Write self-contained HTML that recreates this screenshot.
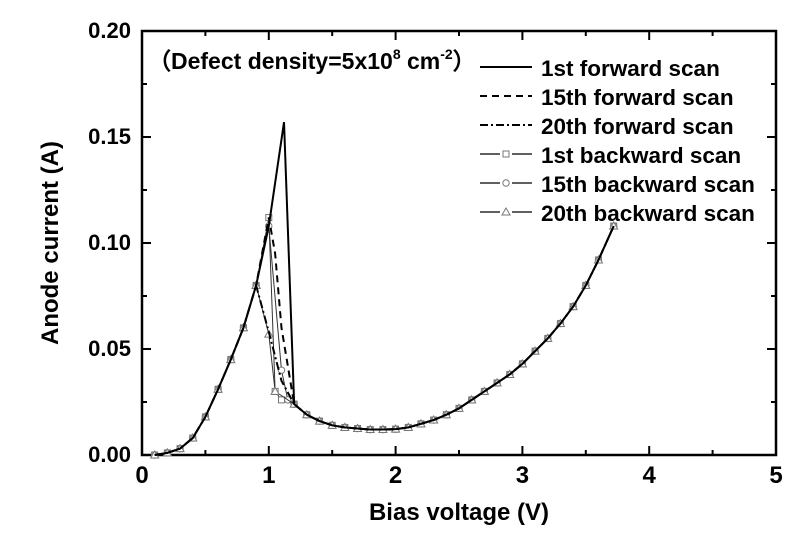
<!DOCTYPE html>
<html><head><meta charset="utf-8"><style>
body{margin:0;background:#fff;}
svg{display:block;font-family:"Liberation Sans",Arial,sans-serif;font-weight:bold;}
</style></head><body>
<svg id="chart" width="808" height="542" viewBox="0 0 808 542" xmlns="http://www.w3.org/2000/svg">
<g id="plot"></g>
</svg>
<script>
const xTicks=[0,1,2,3,4,5];
const yTicks=[0,0.05,0.10,0.15,0.20];
const yTickLabels=["0.00","0.05","0.10","0.15","0.20"];
const rampX=[0.1,0.2,0.3,0.4,0.5,0.6,0.7,0.8,0.9];
const rampY=[0.0,0.001,0.003,0.008,0.018,0.031,0.045,0.060,0.080];
const valleyX=[1.2,1.3,1.4,1.5,1.6,1.7,1.8,1.9,2.0,2.1,2.2,2.3,2.4,2.5,2.6,2.7,2.8,2.9,3.0,3.1,3.2,3.3,3.4,3.5,3.6,3.72];
const valleyY=[0.024,0.019,0.016,0.014,0.013,0.0125,0.012,0.012,0.0122,0.013,0.0147,0.0165,0.019,0.022,0.026,0.030,0.034,0.038,0.043,0.049,0.055,0.062,0.070,0.080,0.092,0.108];
const fwd1X=[1.0,1.12,1.2];const fwd1Y=[0.108,0.157,0.024];
const fwd15X=[1.0,1.05,1.1,1.2];const fwd15Y=[0.112,0.095,0.06,0.024];
const fwd20X=[0.9,1.0,1.1,1.2];const fwd20Y=[0.080,0.058,0.035,0.024];
const bwd1X=[1.0,1.05,1.1];const bwd1Y=[0.112,0.030,0.026];
const bwd15X=[1.0,1.1,1.15];const bwd15Y=[0.108,0.040,0.026];
const bwd20X=[0.9,1.0,1.05];const bwd20Y=[0.080,0.057,0.030];
const legendLabels=["1st forward scan","15th forward scan","20th forward scan","1st backward scan","15th backward scan","20th backward scan"];

const L=142,R=776,T=31,B=455;
const sx=v=>L+v/5*(R-L), sy=v=>B-v/0.2*(B-T);
const NS="http://www.w3.org/2000/svg", g=document.getElementById('plot');
function mk(t,a,p){const e=document.createElementNS(NS,t);for(const k in a)e.setAttribute(k,a[k]);(p||g).appendChild(e);return e;}
const frame=mk('rect',{x:L,y:T,width:R-L,height:B-T,fill:'none',stroke:'#000','stroke-width':2.5});


for(let i=0;i<=10;i++){const v=i*0.5,x=sx(v),len=i%2?5:9;
 mk('line',{x1:x,x2:x,y1:B,y2:B-len,stroke:'#000','stroke-width':2});
 mk('line',{x1:x,x2:x,y1:T,y2:T+len,stroke:'#000','stroke-width':2});}
for(let i=0;i<=8;i++){const v=i*0.025,y=sy(v),len=i%2?5:9;
 mk('line',{x1:L,x2:L+len,y1:y,y2:y,stroke:'#000','stroke-width':2});
 mk('line',{x1:R,x2:R-len,y1:y,y2:y,stroke:'#000','stroke-width':2});}
xTicks.forEach(v=>{const t=mk('text',{x:sx(v),y:B+28,'text-anchor':'middle','font-size':24});t.textContent=v;
 
 });
yTicks.forEach((v,i)=>{const t=mk('text',{x:L-11,y:sy(v)+7,'text-anchor':'end','font-size':22});t.textContent=yTickLabels[i];
 
 });
let t=mk('text',{x:(L+R)/2,y:520,'text-anchor':'middle','font-size':24});t.textContent='Bias voltage (V)';


t=mk('text',{x:0,y:0,'text-anchor':'middle','font-size':24,transform:`translate(58,${(T+B)/2}) rotate(-90)`});t.textContent='Anode current (A)';


function pts(xs,ys){return xs.map((x,i)=>sx(x)+','+sy(ys[i])).join(' ');}
function line(xs,ys,dash,w,name,col){const p=mk('polyline',{points:pts(xs,ys),fill:'none',stroke:col||'#000','stroke-width':w||2,'stroke-dasharray':dash||'none'});
 
 return p;}
function marker(type,x,y,p){const c='#777';
 if(type==='sq')mk('rect',{x:x-3,y:y-3,width:6,height:6,fill:'#fff',stroke:c,'stroke-width':1},p);
 else if(type==='ci')mk('circle',{cx:x,cy:y,r:3.2,fill:'#fff',stroke:c,'stroke-width':1},p);
 else mk('polygon',{points:`${x},${y-4} ${x-4},${y+3} ${x+4},${y+3}`,fill:'#fff',stroke:c,'stroke-width':1},p);}
[[bwd1X,bwd1Y,'sq','backward-1st'],[bwd15X,bwd15Y,'ci','backward-15th'],[bwd20X,bwd20Y,'tr','backward-20th']].forEach(([xs,ys,m,n])=>{
 const X=rampX.concat(xs,valleyX),Y=rampY.concat(ys,valleyY);
 line(X,Y,null,1,n+'-line','#333');
 X.forEach((x,i)=>marker(m,sx(x),sy(Y[i])));});
line(rampX.concat(fwd1X,valleyX),rampY.concat(fwd1Y,valleyY),null,2,'forward-1st-line');
line(rampX.concat(fwd15X,valleyX),rampY.concat(fwd15Y,valleyY),'7,5',2,'forward-15th-line');
line(rampX.concat(fwd20X,valleyX),rampY.concat(fwd20Y,valleyY),'8,3,2,3',2,'forward-20th-line');
t=mk('text',{x:148,y:69,'font-size':23});t.innerHTML='（Defect density=5x10<tspan dy="-10" font-size="14">8</tspan><tspan dy="10"> cm</tspan><tspan dy="-10" font-size="14">-2</tspan><tspan dy="10">）</tspan>';


const styles=[['none',null],['7,5',null],['8,3,2,3',null],['none','sq'],['none','ci'],['none','tr']];
legendLabels.forEach((lab,i)=>{const y=67+i*29;
 const e=mk('g',{});
 
 
 mk('line',{x1:480,x2:532,y1:y,y2:y,stroke:'#000','stroke-width':styles[i][1]?1.2:2,'stroke-dasharray':styles[i][0]},e);
 if(styles[i][1]){mk('rect',{x:500,y:y-5,width:12,height:10,fill:'#fff'},e);marker(styles[i][1],506,y,e);}
 const tx=mk('text',{x:541,y:y+9,'font-size':22.5},e);tx.textContent=lab;});
</script>
</body></html>
